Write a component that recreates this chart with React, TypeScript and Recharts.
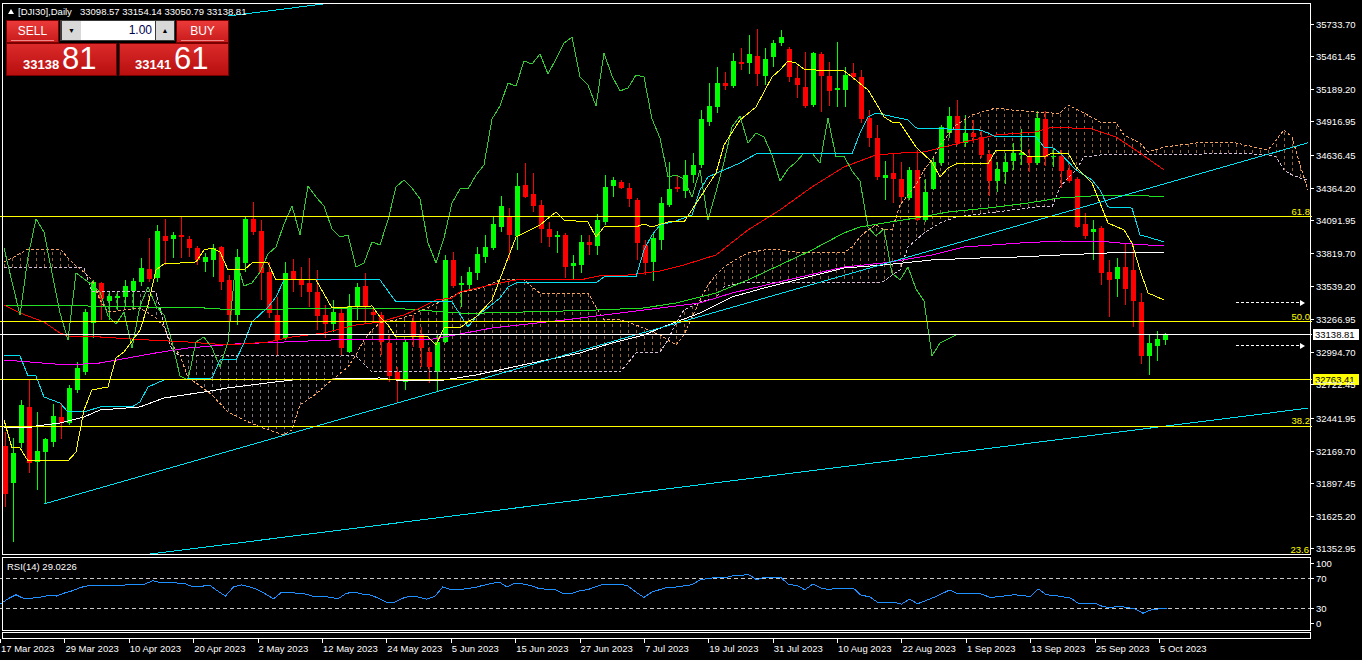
import React from 'react';
import { ComposedChart, Bar, Line, Area, XAxis, YAxis, ReferenceLine } from 'recharts';

const FONT = '"Liberation Sans", Arial, sans-serif';

// x-axis labels, one every 8 bars
const dateLabels = ['17 Mar 2023', '29 Mar 2023', '10 Apr 2023', '20 Apr 2023', '2 May 2023', '12 May 2023', '24 May 2023', '5 Jun 2023', '15 Jun 2023', '27 Jun 2023', '7 Jul 2023', '19 Jul 2023', '31 Jul 2023', '10 Aug 2023', '22 Aug 2023', '1 Sep 2023', '13 Sep 2023', '25 Sep 2023', '5 Oct 2023'];

const priceTicks = [35733.7, 35461.45, 35189.2, 34916.95, 34636.45, 34364.2, 34091.95, 33819.7, 33539.2, 33266.95, 32994.7, 32722.45, 32441.95, 32169.7, 31897.45, 31625.2, 31352.95];

// daily OHLC, 17 Mar 2023 .. 6 Oct 2023
const opens = [32213, 31904, 32238, 32538, 32079, 32162, 32246, 32454, 32404, 32680, 32830, 33239, 33573, 33422, 33447, 33456, 33506, 33581, 33689, 33614, 33965, 33940, 33973, 33940, 33865, 33748, 33765, 33873, 33598, 33306, 33740, 34107, 34007, 33664, 33306, 33114, 33673, 33598, 33573, 33498, 33306, 33231, 33322, 32997, 33381, 33548, 33331, 33306, 33072, 32830, 32747, 33247, 33139, 32997, 32830, 33080, 33765, 33556, 33556, 33656, 33790, 33865, 34040, 34123, 33965, 34390, 34315, 34223, 34023, 33956, 33973, 33715, 33723, 33915, 33881, 34082, 34382, 34415, 34365, 34265, 33890, 33748, 33931, 34223, 34374, 34340, 34474, 34557, 34916, 35041, 35241, 35216, 35417, 35408, 35467, 35300, 35458, 35575, 35525, 35283, 35208, 35058, 35483, 35300, 35183, 35183, 35325, 35292, 34949, 34783, 34449, 34490, 34440, 34282, 34516, 34098, 34357, 34574, 34824, 34966, 34741, 34824, 34791, 34649, 34424, 34499, 34591, 34641, 34632, 34574, 34941, 34624, 34632, 34516, 34440, 34065, 33998, 34032, 33664, 33606, 33706, 33681, 33414, 32964, 33047, 33098.57];
const highs = [32329, 32279, 32596, 32763, 32496, 32279, 32563, 32571, 32722, 32913, 33356, 33598, 33581, 33498, 33498, 33598, 33614, 33781, 33948, 34057, 34107, 33998, 34123, 33965, 33881, 33823, 33898, 33880, 33639, 33856, 34123, 34249, 34098, 33748, 33456, 33748, 33773, 33706, 33781, 33681, 33389, 33431, 33372, 33481, 33573, 33656, 33372, 33331, 33139, 32872, 33097, 33306, 33206, 33039, 33139, 33806, 33831, 33631, 33706, 33873, 33973, 34123, 34299, 34198, 34490, 34574, 34490, 34265, 34082, 34007, 33990, 33806, 33973, 33973, 34148, 34474, 34457, 34432, 34407, 34282, 33931, 33990, 34290, 34582, 34465, 34599, 34657, 35016, 35241, 35375, 35333, 35492, 35533, 35642, 35692, 35533, 35600, 35684, 35542, 35383, 35500, 35500, 35500, 35417, 35584, 35375, 35408, 35350, 35016, 34891, 34591, 34649, 34582, 34541, 34682, 34440, 34616, 34891, 35041, 35100, 34974, 34933, 34841, 34682, 34582, 34657, 34741, 34858, 34691, 35008, 35008, 34699, 34682, 34557, 34457, 34157, 34098, 34048, 33765, 33781, 33898, 33898, 33489, 33147, 33172, 33154.14];
const lows = [31704, 31412, 32196, 31987, 31845, 31729, 32204, 32271, 32388, 32655, 32805, 33114, 33264, 33264, 33347, 33372, 33347, 33548, 33581, 33581, 33723, 33781, 33781, 33790, 33723, 33664, 33623, 33514, 33222, 33222, 33664, 33973, 33431, 33281, 32972, 33097, 33498, 33456, 33372, 33180, 33114, 33164, 32972, 32989, 33264, 33239, 33247, 32972, 32747, 32580, 32680, 33039, 32872, 32738, 32663, 33072, 33531, 33372, 33514, 33598, 33740, 33848, 33998, 33765, 33848, 34282, 34165, 33906, 33873, 33823, 33614, 33606, 33656, 33806, 33806, 34057, 34290, 34357, 34207, 33765, 33639, 33589, 33848, 34207, 34332, 34282, 34407, 34532, 34883, 34991, 35183, 35200, 35350, 35317, 35216, 35225, 35375, 35550, 35250, 35116, 35033, 35041, 34999, 35050, 35041, 35041, 35266, 34908, 34707, 34432, 34265, 34240, 34240, 34265, 34090, 34082, 34349, 34549, 34783, 34724, 34707, 34741, 34616, 34299, 34332, 34399, 34516, 34557, 34499, 34557, 34549, 34541, 34365, 34407, 34032, 33940, 33765, 33556, 33289, 33456, 33389, 33206, 32897, 32805, 32922, 33050.79];
const closes = [31812, 32154, 32555, 32071, 32171, 32271, 32463, 32404, 32697, 32863, 33331, 33581, 33439, 33464, 33464, 33548, 33589, 33698, 33606, 34007, 33923, 33973, 33956, 33865, 33765, 33790, 33865, 33581, 33306, 33790, 34107, 33998, 33656, 33322, 33097, 33656, 33606, 33556, 33498, 33297, 33231, 33331, 33030, 33381, 33539, 33381, 33306, 33080, 32797, 32763, 33080, 33122, 33030, 32872, 33080, 33765, 33548, 33573, 33664, 33815, 33873, 34065, 34215, 33973, 34382, 34290, 34215, 34023, 33956, 33973, 33706, 33740, 33915, 33890, 34098, 34374, 34432, 34365, 34274, 33906, 33740, 33948, 34240, 34357, 34357, 34474, 34557, 34941, 35050, 35241, 35216, 35425, 35400, 35483, 35317, 35442, 35575, 35625, 35292, 35225, 35050, 35492, 35300, 35175, 35200, 35308, 35292, 34941, 34783, 34457, 34474, 34440, 34290, 34516, 34098, 34332, 34582, 34874, 34966, 34741, 34824, 34791, 34641, 34424, 34524, 34582, 34657, 34657, 34574, 34949, 34624, 34632, 34507, 34424, 34040, 33965, 34023, 33656, 33598, 33706, 33523, 33422, 32964, 33072, 33105, 33138.81];

// indicator vertices [bar, price]
const tenkanPts: [number, number][] = [[0, 32429], [1, 32196], [2, 32196], [3, 32088], [8, 32088], [9, 32162], [10, 32513], [11, 32680], [13, 32705], [14, 32947], [15, 32997], [17, 33180], [18, 33389], [19, 33681], [20, 33731], [24, 33748], [25, 33848], [26, 33865], [27, 33831], [28, 33681], [30, 33681], [31, 33740], [33, 33740], [34, 33598], [39, 33598], [41, 33364], [43, 33372], [46, 33381], [47, 33289], [48, 33222], [49, 33122], [53, 33122], [54, 33055], [55, 33197], [57, 33197], [58, 33247], [59, 33289], [61, 33431], [64, 33956], [65, 33990], [67, 34057], [69, 34165], [70, 34098], [73, 34082], [74, 33956], [75, 34040], [79, 34040], [80, 34065], [81, 34040], [83, 34082], [85, 34082], [89, 34490], [90, 34724], [92, 34933], [94, 35041], [96, 35292], [97, 35350], [98, 35425], [99, 35408], [100, 35358], [103, 35342], [105, 35342], [106, 35292], [108, 35183], [109, 35075], [110, 34958], [111, 34916], [112, 34908], [114, 34707], [116, 34582], [117, 34457], [118, 34532], [119, 34566], [123, 34566], [124, 34682], [127, 34682], [128, 34624], [130, 34624], [131, 34657], [133, 34657], [134, 34541], [136, 34407], [137, 34240], [138, 34073], [140, 34015], [141, 33906], [142, 33681], [143, 33489], [145, 33431]];
const kijunPts: [number, number][] = [[0, 32964], [2, 32964], [3, 32797], [4, 32797], [5, 32621], [7, 32571], [8, 32496], [10, 32496], [12, 32538], [16, 32538], [17, 32580], [18, 32705], [20, 32763], [26, 32780], [27, 32930], [29, 32930], [30, 33072], [31, 33247], [33, 33372], [34, 33456], [35, 33598], [47, 33598], [49, 33414], [56, 33414], [58, 33206], [59, 33289], [62, 33447], [63, 33539], [64, 33573], [74, 33573], [75, 33623], [79, 33623], [80, 33848], [81, 33973], [82, 34057], [84, 34090], [86, 34140], [87, 34349], [88, 34457], [90, 34516], [92, 34574], [94, 34649], [106, 34649], [107, 34824], [108, 34958], [109, 34991], [113, 34933], [114, 34866], [122, 34849], [123, 34824], [124, 34791], [129, 34791], [130, 34707], [131, 34707], [132, 34657], [134, 34516], [136, 34432], [137, 34349], [138, 34207], [141, 34198], [142, 33973], [143, 33956], [145, 33915]];
const maRedPts: [number, number][] = [[0, 33389], [2, 33322], [5, 33247], [7, 33155], [8, 33130], [12, 33122], [16, 33105], [18, 33097], [23, 33080], [28, 33055], [33, 33080], [36, 33122], [40, 33155], [44, 33222], [47, 33247], [50, 33306], [52, 33364], [54, 33431], [56, 33447], [57, 33498], [62, 33573], [64, 33598], [72, 33598], [75, 33639], [78, 33639], [80, 33656], [82, 33673], [85, 33723], [89, 33806], [93, 34015], [97, 34182], [101, 34374], [105, 34541], [109, 34641], [112, 34657], [115, 34666], [120, 34749], [124, 34808], [129, 34833], [131, 34874], [136, 34858], [139, 34791], [142, 34657], [145, 34516]];
const maGreenPts: [number, number][] = [[0, 33381], [10, 33381], [25, 33364], [29, 33347], [41, 33364], [50, 33356], [57, 33322], [60, 33322], [70, 33339], [74, 33347], [80, 33364], [84, 33406], [89, 33489], [93, 33598], [97, 33723], [101, 33848], [105, 33990], [107, 34040], [110, 34073], [114, 34115], [118, 34165], [123, 34198], [128, 34240], [132, 34282], [136, 34299], [143, 34299], [145, 34290]];
const maMagentaPts: [number, number][] = [[0, 32930], [8, 32888], [12, 32905], [19, 32989], [23, 33030], [29, 33064], [35, 33080], [41, 33097], [50, 33105], [53, 33097], [61, 33197], [70, 33264], [80, 33347], [87, 33406], [91, 33489], [99, 33614], [105, 33706], [110, 33740], [116, 33806], [120, 33873], [127, 33906], [132, 33923], [138, 33915], [141, 33898], [145, 33881]];
const maWhitePts: [number, number][] = [[0, 32363], [3, 32363], [4, 32379], [7, 32404], [10, 32454], [12, 32513], [17, 32538], [20, 32613], [25, 32663], [28, 32697], [34, 32747], [36, 32763], [47, 32780], [49, 32763], [55, 32763], [59, 32805], [66, 32905], [72, 32989], [76, 33072], [80, 33139], [83, 33222], [87, 33322], [91, 33456], [95, 33531], [99, 33598], [105, 33698], [110, 33723], [116, 33765], [122, 33781], [127, 33790], [132, 33806], [138, 33823], [145, 33823]];

// Ichimoku cloud vertices [bar, senkou A, senkou B]
const cloudPts: [number, number, number][] = [[0, 33748, 33698], [1, 33781, 33698], [3, 33856, 33698], [7, 33856, 33698], [8, 33781, 33698], [9, 33715, 33698], [10, 33664, 33698], [11, 33598, 33498], [12, 33431, 33498], [13, 33331, 33498], [15, 33347, 33498], [17, 33364, 33498], [19, 33281, 33498], [20, 33206, 33222], [21, 33055, 33014], [22, 32972, 32964], [23, 32780, 32964], [24, 32738, 32964], [26, 32638, 32964], [28, 32496, 32964], [30, 32429, 32964], [32, 32371, 32964], [35, 32304, 32964], [36, 32346, 32964], [37, 32555, 32964], [39, 32647, 32964], [41, 32763, 32964], [43, 32872, 32964], [44, 32972, 32964], [45, 33097, 32897], [46, 33180, 32830], [47, 33239, 32830], [49, 33264, 32830], [51, 33306, 32830], [55, 33431, 32830], [57, 33489, 32830], [60, 33539, 32830], [62, 33598, 32830], [65, 33598, 32830], [66, 33539, 32830], [67, 33489, 32830], [73, 33489, 32830], [74, 33372, 32830], [75, 33264, 32830], [77, 33264, 32830], [78, 33247, 32905], [79, 33222, 32989], [82, 33139, 32997], [83, 33097, 33097], [84, 33055, 33239], [85, 33139, 33347], [87, 33431, 33414], [88, 33556, 33431], [89, 33639, 33447], [90, 33706, 33539], [92, 33790, 33573], [93, 33823, 33573], [95, 33848, 33573], [97, 33848, 33573], [99, 33831, 33573], [101, 33823, 33573], [105, 33823, 33573], [106, 33873, 33573], [107, 33956, 33573], [108, 34015, 33573], [109, 34057, 33573], [110, 34015, 33589], [111, 34015, 33639], [112, 34223, 33681], [113, 34307, 33873], [114, 34390, 33931], [115, 34516, 33990], [116, 34599, 34032], [117, 34724, 34073], [118, 34808, 34098], [119, 34891, 34123], [121, 34974, 34140], [124, 35033, 34165], [126, 35016, 34182], [129, 34999, 34207], [131, 34991, 34207], [132, 34991, 34374], [133, 35058, 34449], [134, 35025, 34516], [135, 34991, 34624], [137, 34916, 34641], [139, 34908, 34641], [140, 34808, 34641], [142, 34741, 34641], [143, 34666, 34641], [145, 34707, 34641], [150, 34749, 34649], [154, 34741, 34657], [158, 34682, 34641], [159, 34766, 34624], [160, 34849, 34516], [161, 34791, 34474], [162, 34557, 34449], [163, 34349, 34432]];

// RSI(14) vertices [bar, value]
const rsiPts: [number, number][] = [[0, 35.4], [1, 42.8], [2, 48.3], [3, 42.8], [4, 43.7], [5, 45.1], [6, 47.3], [7, 46.5], [8, 50.6], [9, 53.8], [10, 58.3], [11, 60.7], [12, 60.3], [14, 60.3], [16, 62.1], [18, 63.0], [19, 67.6], [20, 64.4], [21, 65.8], [22, 64.4], [23, 63.4], [24, 58.9], [25, 59.7], [26, 61.7], [27, 53.8], [28, 46.5], [29, 58.9], [30, 61.7], [31, 59.3], [32, 55.2], [33, 49.2], [34, 42.8], [35, 52.0], [36, 52.0], [37, 50.1], [38, 49.2], [39, 45.5], [40, 46.5], [42, 42.8], [43, 50.1], [44, 52.0], [45, 49.2], [46, 47.9], [47, 43.7], [48, 38.2], [49, 38.2], [50, 43.4], [51, 46.5], [52, 45.1], [53, 42.3], [54, 45.9], [55, 58.9], [56, 55.2], [57, 55.2], [59, 58.3], [60, 61.1], [62, 65.8], [63, 58.9], [64, 64.4], [65, 63.0], [66, 60.7], [67, 56.6], [69, 55.2], [70, 49.7], [71, 49.7], [72, 53.8], [73, 55.2], [75, 63.0], [77, 63.0], [78, 60.3], [79, 52.0], [80, 44.6], [81, 52.0], [83, 58.9], [84, 58.9], [86, 62.1], [87, 69.0], [89, 72.1], [90, 71.3], [91, 74.1], [92, 74.9], [93, 75.9], [94, 69.0], [95, 72.1], [97, 72.1], [98, 62.1], [99, 61.1], [100, 55.2], [101, 63.0], [102, 57.5], [103, 55.2], [104, 57.5], [106, 57.5], [107, 47.3], [108, 45.9], [109, 38.2], [111, 38.2], [112, 35.4], [113, 42.3], [114, 35.9], [116, 44.6], [118, 54.8], [119, 49.7], [120, 50.6], [122, 49.2], [123, 44.6], [124, 45.5], [126, 48.3], [128, 45.9], [129, 56.1], [130, 48.3], [131, 47.3], [133, 43.7], [134, 36.3], [136, 36.8], [137, 32.1], [138, 30.8], [139, 32.7], [140, 30.8], [141, 29.0], [142, 23.0], [143, 27.6], [144, 29.0], [145, 29.02]];

const fibLevels = [{ label: '61.8', price: 34127 }, { label: '50.0', price: 33251 }, { label: '38.2', price: 32375 }, { label: '23.6', price: 31295 }];
const bidPrice = 33138.81;
const supportPrice = 32763.41;
const arrowLevels = [33406, 33047];
const trendLines: [number, number, number, number][] = [[5, 31729, 163, 34742], [17, 31300, 163, 32528], [28, 35800, 41, 35910]];
// bars where the cloud is drawn in thistle (senkou B on top)
const thistleFrom = 11;
const thistleTo = 45;

const N = 164;
const rows: any[] = Array.from({ length: N }, (_, i) => ({ i }));
closes.forEach((c, i) => {
  rows[i].open = opens[i];
  rows[i].high = highs[i];
  rows[i].low = lows[i];
  rows[i].close = c;
  if (i + 26 < closes.length) rows[i].chikou = closes[i + 26];
});
const put = (key: string, pts: [number, number][]) => pts.forEach(([i, v]) => { rows[i][key] = v; });
put('tenkan', tenkanPts);
put('kijun', kijunPts);
put('maRed', maRedPts);
put('maGreen', maGreenPts);
put('maMagenta', maMagentaPts);
put('maWhite', maWhitePts);
put('rsi', rsiPts);
cloudPts.forEach(([i, a, b]) => { rows[i].spanA = a; rows[i].spanB = b; });

const cloudIn = (lo: number, hi: number) => (d: any) =>
  d.spanA == null || d.i < lo || d.i > hi ? null : [Math.min(d.spanA, d.spanB), Math.max(d.spanA, d.spanB)];

const Candle = (p: any) => {
  const d = p.payload;
  if (!d || d.open == null) return <g />;
  const top = Math.min(p.y, p.y + p.height);
  const h = Math.abs(p.height);
  const py = (v: number) => top + ((d.high - v) / (d.high - d.low)) * h;
  const cx = Math.round(p.x + p.width / 2);
  const color = d.close >= d.open ? '#00FF00' : '#FF0000';
  const bt = Math.round(py(Math.max(d.open, d.close)));
  const bb = Math.round(py(Math.min(d.open, d.close)));
  return (
    <g>
      <rect x={cx} y={Math.round(top)} width={1} height={Math.max(1, Math.round(h))} fill={color} />
      <rect x={cx - 2} y={bt} width={5} height={Math.max(1, bb - bt)} fill={color} />
    </g>
  );
};

const PriceTick = (p: any) => (
  <g>
    <line x1={p.x - 1} x2={p.x + 2} y1={p.y} y2={p.y} stroke="#fff" />
    <text x={p.x + 4} y={p.y + 3.5} fill="#fff" fontSize={9.5} fontFamily={FONT}>{Number(p.payload.value).toFixed(2)}</text>
  </g>
);

const RsiTick = (p: any) => {
  const v = p.payload.value;
  const dy = v === 100 ? 6 : v === 0 ? -7 : 0;
  return (
    <g>
      <line x1={p.x - 1} x2={p.x + 2} y1={p.y + dy} y2={p.y + dy} stroke="#fff" />
      <text x={p.x + 4} y={p.y + dy + 3.5} fill="#fff" fontSize={9.5} fontFamily={FONT}>{v}</text>
    </g>
  );
};

const DateTick = (p: any) => (
  <g>
    <line x1={p.x + 0.5} x2={p.x + 0.5} y1={p.y + 9} y2={p.y + 13} stroke="#fff" />
    <text x={p.x + 1} y={p.y + 21.5} fill="#fff" fontSize={9.5} fontFamily={FONT}>{dateLabels[p.payload.value / 8]}</text>
  </g>
);

const priceTag = (text: string, bg: string) => (p: any) => {
  const vb = p.viewBox;
  const right = vb.x + vb.width;
  return (
    <g>
      <rect x={right + 1} y={vb.y - 5.5} width={46} height={11} fill={bg} />
      <text x={right + 3} y={vb.y + 3.5} fill="#000" fontSize={9.5} fontFamily={FONT}>{text}</text>
    </g>
  );
};

const redBox = (extra: React.CSSProperties): React.CSSProperties => ({
  position: 'absolute', boxSizing: 'border-box', border: '1px solid #7a0000',
  background: 'linear-gradient(#ec3a3a, #c81b1b)', color: '#fff', fontFamily: FONT, ...extra,
});

function TradePanel() {
  return (
    <>
      <div style={redBox({ left: 6, top: 20, width: 53, height: 23, fontSize: 12, textAlign: 'center', lineHeight: '20px' })}>SELL
        <div style={{ position: 'absolute', left: 4, right: 4, bottom: 1, height: 1, background: '#f08a8a' }} />
      </div>
      <div style={redBox({ left: 176, top: 20, width: 53, height: 23, fontSize: 12, textAlign: 'center', lineHeight: '20px' })}>BUY
        <div style={{ position: 'absolute', left: 4, right: 4, bottom: 1, height: 1, background: '#f08a8a' }} />
      </div>
      <div style={{ position: 'absolute', left: 60, top: 20, width: 115, height: 21, background: '#3a3a3a' }}>
        <div style={{ position: 'absolute', left: 2, top: 1, width: 19, height: 19, background: '#d8d8d8', fontSize: 7, textAlign: 'center', lineHeight: '19px', color: '#000', fontFamily: FONT }}>▼</div>
        <div style={{ position: 'absolute', left: 21, top: 1, width: 74, height: 19, background: '#fff', fontSize: 12, textAlign: 'right', lineHeight: '19px', color: '#000050', fontFamily: FONT, paddingRight: 3, boxSizing: 'border-box' }}>1.00</div>
        <div style={{ position: 'absolute', left: 96, top: 1, width: 18, height: 19, background: '#d8d8d8', fontSize: 7, textAlign: 'center', lineHeight: '19px', color: '#000', fontFamily: FONT }}>▲</div>
      </div>
      <div style={redBox({ left: 6, top: 43, width: 111, height: 33, background: 'linear-gradient(#dc2a2a, #b80f0f)' })}>
        <span style={{ position: 'absolute', left: 16, top: 13, fontSize: 13, fontWeight: 'bold' }}>33138</span>
        <span style={{ position: 'absolute', left: 55, top: -3, fontSize: 31 }}>81</span>
      </div>
      <div style={redBox({ left: 119, top: 43, width: 110, height: 33, background: 'linear-gradient(#dc2a2a, #b80f0f)' })}>
        <span style={{ position: 'absolute', left: 15, top: 13, fontSize: 13, fontWeight: 'bold' }}>33141</span>
        <span style={{ position: 'absolute', left: 54, top: -3, fontSize: 31 }}>61</span>
      </div>
    </>
  );
}

export default function App() {
  const dateTicks = dateLabels.map((_, k) => k * 8);
  return (
    <div style={{ position: 'fixed', left: 0, top: 0, width: 1362, height: 660, background: '#000', overflow: 'hidden' }}>
      <svg width={0} height={0} style={{ position: 'absolute' }}>
        <defs>
          <pattern id="hatchSand" patternUnits="userSpaceOnUse" x={0} y={0} width={8} height={6}>
            <rect x={4} y={0} width={1} height={3} fill="#F4A460" />
          </pattern>
          <pattern id="hatchThistle" patternUnits="userSpaceOnUse" x={0} y={0} width={8} height={6}>
            <rect x={4} y={0} width={1} height={3} fill="#D8BFD8" />
          </pattern>
          <marker id="arrowHead" markerWidth={5} markerHeight={6} refX={0} refY={3} orient="auto" markerUnits="userSpaceOnUse">
            <path d="M0,0 L5,3 L0,6 z" fill="#fff" />
          </marker>
        </defs>
      </svg>

      <div style={{ position: 'absolute', left: 0, top: 0 }}>
        <ComposedChart width={1362} height={554} data={rows} margin={{ top: 3, right: 0, bottom: 0, left: 0 }} style={{ shapeRendering: 'crispEdges' }}>
          <XAxis dataKey="i" type="category" hide />
          <YAxis orientation="right" width={50} type="number" domain={[31311, 35909]} allowDataOverflow ticks={priceTicks} interval={0} tick={PriceTick} axisLine={false} tickLine={false} tickSize={0} tickMargin={0} />
          <Area dataKey={cloudIn(0, thistleFrom)} fill="url(#hatchSand)" stroke="none" connectNulls isAnimationActive={false} />
          <Area dataKey={cloudIn(thistleFrom, thistleTo)} fill="url(#hatchThistle)" stroke="none" connectNulls isAnimationActive={false} />
          <Area dataKey={cloudIn(thistleTo, N)} fill="url(#hatchSand)" stroke="none" connectNulls isAnimationActive={false} />
          <Line dataKey="spanA" stroke="#F4A460" strokeDasharray="3 2" dot={false} connectNulls isAnimationActive={false} />
          <Line dataKey="spanB" stroke="#D8BFD8" strokeDasharray="3 2" dot={false} connectNulls isAnimationActive={false} />
          <Bar dataKey={(d: any) => (d.low == null ? null : [d.low, d.high])} shape={Candle} barSize={5} isAnimationActive={false} />
          <Line dataKey="maWhite" stroke="#FFFFFF" dot={false} connectNulls isAnimationActive={false} />
          <Line dataKey="maMagenta" stroke="#FF00FF" dot={false} connectNulls isAnimationActive={false} />
          <Line dataKey="maGreen" stroke="#22E022" dot={false} connectNulls isAnimationActive={false} />
          <Line dataKey="maRed" stroke="#FF0000" dot={false} connectNulls isAnimationActive={false} />
          <Line dataKey="chikou" stroke="#32CD32" dot={false} connectNulls isAnimationActive={false} />
          <Line dataKey="kijun" stroke="#00E0F0" dot={false} connectNulls isAnimationActive={false} />
          <Line dataKey="tenkan" stroke="#FFFF00" dot={false} connectNulls isAnimationActive={false} />
          {trendLines.map(([x1, y1, x2, y2], k) => (
            <ReferenceLine key={'t' + k} segment={[{ x: x1, y: y1 }, { x: x2, y: y2 }]} stroke="#00E0F0" ifOverflow="hidden" />
          ))}
          {fibLevels.map((f) => {
            const inside = f.price > 31311;
            return (
              <ReferenceLine key={f.label} y={f.price} stroke="#FFFF00" strokeWidth={1} strokeOpacity={inside ? 1 : 0}
                ifOverflow={inside ? 'hidden' : 'visible'}
                label={{ value: f.label, position: 'insideBottomRight', fill: '#FFFF00', fontSize: 9.5, fontFamily: FONT, offset: inside ? 2 : 3 }} />
            );
          })}
          {arrowLevels.map((v) => (
            <ReferenceLine key={'a' + v} segment={[{ x: 154, y: v }, { x: 162, y: v }]} stroke="#fff" strokeDasharray="3 2" markerEnd="url(#arrowHead)" />
          ))}
          <ReferenceLine y={supportPrice} stroke="#FFFF00" label={priceTag('32763.41', '#FFFF00')} />
          <ReferenceLine y={bidPrice} stroke="#FFFFFF" label={priceTag('33138.81', '#FFFFFF')} />
        </ComposedChart>
      </div>

      <div style={{ position: 'absolute', left: 0, top: 557 }}>
        <ComposedChart width={1362} height={103} data={rows} margin={{ top: 0, right: 0, bottom: 0, left: 0 }} style={{ shapeRendering: 'crispEdges' }}>
          <XAxis dataKey="i" type="category" height={30} ticks={dateTicks} interval={0} tick={DateTick} axisLine={false} tickLine={false} tickSize={0} tickMargin={0} />
          <YAxis orientation="right" width={50} type="number" domain={[0, 100]} ticks={[0, 30, 70, 100]} interval={0} tick={RsiTick} axisLine={false} tickLine={false} tickSize={0} tickMargin={0} />
          <ReferenceLine y={70} stroke="#C8C8C8" strokeDasharray="4 3" />
          <ReferenceLine y={30} stroke="#C8C8C8" strokeDasharray="4 3" />
          <Line dataKey="rsi" stroke="#1E90FF" dot={false} connectNulls isAnimationActive={false} />
        </ComposedChart>
      </div>

      {/* frames */}
      <div style={{ position: 'absolute', left: 2, top: 3, width: 1309, height: 552, border: '1px solid #fff', boxSizing: 'border-box', pointerEvents: 'none' }} />
      <div style={{ position: 'absolute', left: 2, top: 557, width: 1309, height: 74, border: '1px solid #fff', boxSizing: 'border-box', pointerEvents: 'none' }} />
      <div style={{ position: 'absolute', left: 2, top: 632, width: 1309, height: 7, border: '1px solid #fff', boxSizing: 'border-box', pointerEvents: 'none' }} />

      {/* header */}
      <div style={{ position: 'absolute', left: 8, top: 9, width: 0, height: 0, borderLeft: '3px solid transparent', borderRight: '3px solid transparent', borderBottom: '5px solid #fff' }} />
      <div style={{ position: 'absolute', left: 18, top: 6, color: '#fff', fontFamily: FONT, fontSize: 9.5, lineHeight: '11px', whiteSpace: 'pre' }}>[DJI30],Daily</div>
      <div style={{ position: 'absolute', left: 80, top: 6, color: '#fff', fontFamily: FONT, fontSize: 9.5, lineHeight: '11px', whiteSpace: 'pre' }}>33098.57 33154.14 33050.79 33138.81</div>
      <div style={{ position: 'absolute', left: 7, top: 561, color: '#fff', fontFamily: FONT, fontSize: 9.5, lineHeight: '11px', whiteSpace: 'pre' }}>RSI(14) 29.0226</div>
      <TradePanel />
    </div>
  );
}
